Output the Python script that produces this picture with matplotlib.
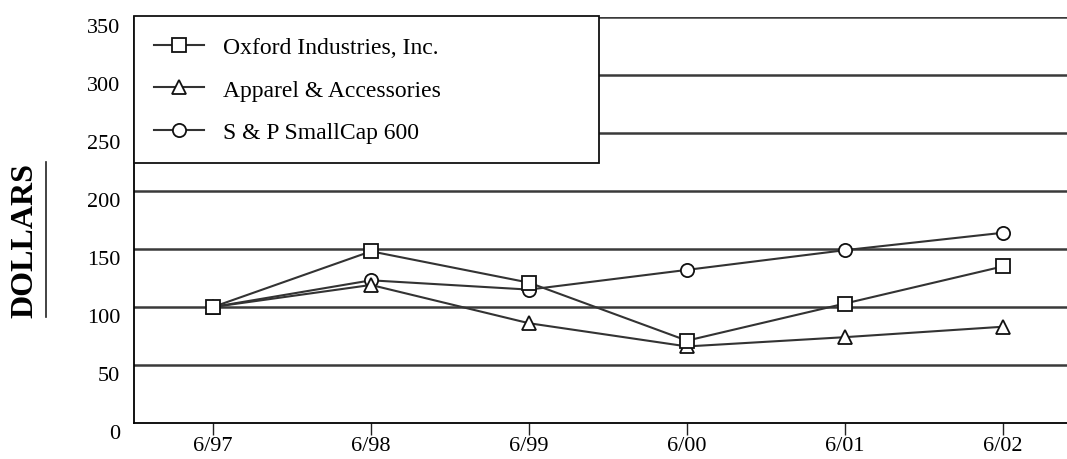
import matplotlib.pyplot as plt
import matplotlib.transforms as mtransforms
import numpy as np

dates = ['6/97', '6/98', '6/99', '6/00', '6/01', '6/02']
oxford = [100, 148, 121, 71, 103, 135]
apparel = [100, 119, 86, 66, 74, 83]
smallcap = [100, 123, 115, 132, 149, 164]
yticks = [0, 50, 100, 150, 200, 250, 300, 350]

plt.rcParams['font.family'] = ['Liberation Serif', 'DejaVu Serif']

fig = plt.figure(figsize=(10.67, 4.6), dpi=100)
ax = fig.add_axes([134/1067, 1 - 424/460, 1 - 134/1067, (424 - 18)/460])

x = np.arange(len(dates))
for y in yticks[1:]:
    ax.axhline(y, color='#3a3a3a', lw=1.8, zorder=1)

line_kw = dict(color='#333333', lw=1.5, markersize=9.5, markerfacecolor='white',
               markeredgecolor='#111111', markeredgewidth=1.3, zorder=3)
ax.plot(x, smallcap, marker='o', label='S & P SmallCap 600', **line_kw)
ax.plot(x, apparel, marker='^', label='Apparel & Accessories', **line_kw)
ax.plot(x, oxford, marker='s', label='Oxford Industries, Inc.', **line_kw)

ax.set_xlim(-0.5, 5.405)
ax.set_ylim(0, 350)
ax.set_xticks(x)
ax.set_xticklabels(dates, fontsize=16)
ax.set_yticks(yticks)
ax.set_yticklabels([str(v) for v in yticks], fontsize=16)
ax.tick_params(axis='x', length=8.6, width=1, direction='out', pad=0.5, color='#222222')
ax.tick_params(axis='y', length=0, pad=10)

# y labels sit just below their gridline in the original
shift = mtransforms.ScaledTranslation(0, -8/100, fig.dpi_scale_trans)
for lbl in ax.get_yticklabels():
    lbl.set_transform(lbl.get_transform() + shift)

for s in ['top', 'right']:
    ax.spines[s].set_visible(False)
ax.spines['left'].set_linewidth(1.3)
ax.spines['bottom'].set_linewidth(1.3)

handles, labels = ax.get_legend_handles_labels()
leg = ax.legend(handles[::-1], labels[::-1], loc='upper left',
                bbox_to_anchor=(0, 1.002, 465/933, 0), mode='expand',
                borderaxespad=0, fontsize=17,
                frameon=True, fancybox=False, edgecolor='#111111',
                framealpha=1, handlelength=2.1, labelspacing=0.9,
                borderpad=0.85, handletextpad=0.8)
leg.get_frame().set_linewidth(1.3)
leg.set_zorder(5)

fig.text(25/1067, 1 - 241/460, 'DOLLARS', rotation=90, fontsize=23,
         fontweight='bold', ha='center', va='center')
fig.add_artist(plt.Line2D([46/1067, 46/1067], [1 - 318/460, 1 - 163/460],
                          color='#222222', lw=1.2))

fig.savefig('out.png', dpi=100)
